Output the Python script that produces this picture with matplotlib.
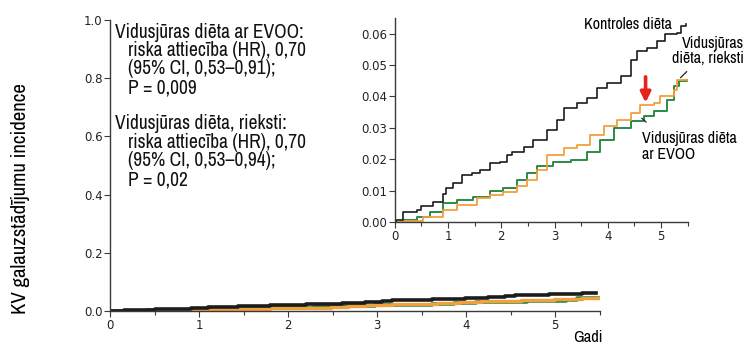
import matplotlib
matplotlib.use("Agg")
import matplotlib.pyplot as plt
from matplotlib.ticker import MultipleLocator, FormatStrFormatter

plt.rcParams['font.family'] = ['Archivo Narrow', 'DejaVu Sans']

# kumulativa incidence (nolasīta no attēla)
t_kontrole = [0, 0.03, 0.15, 0.41, 0.5, 0.72, 0.91, 0.97, 1.1, 1.26, 1.44, 1.6, 1.79, 1.98, 2.1, 2.2,
              2.42, 2.6, 2.86, 3.05, 3.17, 3.42, 3.61, 3.8, 3.99, 4.24, 4.43, 4.55, 4.74, 4.93, 5.08,
              5.3, 5.37, 5.46]
y_kontrole = [0, 0.0006, 0.0033, 0.0038, 0.0051, 0.0065, 0.0089, 0.0108, 0.0124, 0.015, 0.0156,
              0.0166, 0.0188, 0.0192, 0.0214, 0.0224, 0.024, 0.0262, 0.0294, 0.0326, 0.0363, 0.0379,
              0.0395, 0.0427, 0.0443, 0.0464, 0.0517, 0.0544, 0.0554, 0.0575, 0.0597, 0.0602, 0.0623,
              0.063]

t_rieksti = [0, 0.15, 0.53, 0.91, 1.16, 1.54, 1.79, 2.04, 2.29, 2.48, 2.67, 2.86, 3.17, 3.42, 3.67,
             3.92, 4.17, 4.43, 4.61, 4.86, 4.99, 5.24, 5.3, 5.48]
y_rieksti = [0, 0.0003, 0.0017, 0.0038, 0.0054, 0.0076, 0.0086, 0.0094, 0.0113, 0.0134, 0.0166,
             0.0214, 0.0235, 0.0246, 0.0278, 0.0304, 0.0326, 0.0347, 0.0373, 0.0379, 0.04, 0.0421,
             0.0453, 0.0453]

t_evoo = [0, 0.15, 0.41, 0.66, 0.91, 1.16, 1.47, 1.79, 2.04, 2.29, 2.48, 2.67, 2.98, 3.3, 3.61,
          3.86, 4.11, 4.43, 4.68, 4.86, 5.12, 5.24, 5.34, 5.48]
y_evoo = [0, 0.0006, 0.0017, 0.0033, 0.006, 0.007, 0.0081, 0.0097, 0.0108, 0.0134, 0.0156, 0.0177,
          0.0192, 0.0198, 0.0224, 0.0262, 0.0299, 0.032, 0.0336, 0.0352, 0.0389, 0.0432, 0.0448,
          0.0453]

bloks_evoo = ["Vidusjūras diēta ar EVOO:", "riska attiecība (HR), 0,70", "(95% CI, 0,53–0,91);", "P = 0,009"]
bloks_rieksti = ["Vidusjūras diēta, rieksti:", "riska attiecība (HR), 0,70", "(95% CI, 0,53–0,94);", "P = 0,02"]

c_black = '#1c1c1c'
c_orange = '#f2a03c'
c_green = '#2b8a48'
c_axis = '#3a3a3a'

fig = plt.figure(figsize=(7.45, 3.49), dpi=100)

def style_axes(ax):
    for s in ['top', 'right']:
        ax.spines[s].set_visible(False)
    for s in ['left', 'bottom']:
        ax.spines[s].set_color(c_axis)
        ax.spines[s].set_linewidth(1.0)
    ax.tick_params(which='both', direction='out', color=c_axis, width=0.8, labelcolor='#222222')
    ax.tick_params(which='major', length=4)
    ax.tick_params(which='minor', length=3)
    ax.xaxis.set_major_locator(MultipleLocator(1))
    ax.xaxis.set_minor_locator(MultipleLocator(0.5))
    ax.set_xlim(0, 5.5)
    ax.patch.set_alpha(0)
    for lab in ax.get_xticklabels() + ax.get_yticklabels():
        lab.set_family('DejaVu Sans')

# galvenais grafiks
ax = fig.add_axes([0.148, 0.109, 0.657, 0.834])
ax.plot(t_evoo, y_evoo, drawstyle='steps-post', color=c_green, lw=2.6)
ax.plot(t_rieksti, y_rieksti, drawstyle='steps-post', color=c_orange, lw=2.4)
ax.plot(t_kontrole, y_kontrole, drawstyle='steps-post', color=c_black, lw=2.6)
ax.set_ylim(0, 1.0)
ax.yaxis.set_major_locator(MultipleLocator(0.2))
ax.yaxis.set_major_formatter(FormatStrFormatter('%.1f'))
style_axes(ax)
ax.tick_params(axis='both', labelsize=8.5, pad=1.5)

fig.text(0.809, 0.034, "Gadi", ha='right', va='center', fontsize=12)
fig.text(0.028, 0.43, "KV galauzstādījumu incidence", rotation=90, ha='center', va='center', fontsize=15)

# teksta bloki
dy = 18.5 / 349
for bloks, y0 in [(bloks_evoo, 1 - 32 / 349), (bloks_rieksti, 1 - 124 / 349)]:
    for i, line in enumerate(bloks):
        x = 115 / 745 if i == 0 else 128 / 745
        fig.text(x, y0 - i * dy, line, ha='left', va='center', fontsize=14, color='#111111')

# ieliktnis
ax_in = fig.add_axes([0.530, 0.364, 0.393, 0.585])
ax_in.plot(t_evoo, y_evoo, drawstyle='steps-post', color=c_green, lw=1.4)
ax_in.plot(t_rieksti, y_rieksti, drawstyle='steps-post', color=c_orange, lw=1.3)
ax_in.plot(t_kontrole, y_kontrole, drawstyle='steps-post', color=c_black, lw=1.2)
ax_in.set_ylim(0, 0.065)
ax_in.yaxis.set_major_locator(MultipleLocator(0.01))
ax_in.yaxis.set_major_formatter(FormatStrFormatter('%.2f'))
style_axes(ax_in)
ax_in.tick_params(axis='both', labelsize=8.5, pad=1.5)

fig.text(0.843, 0.931, "Kontroles diēta", ha='center', va='center', fontsize=11.5)
fig.text(0.999, 0.854, "Vidusjūras\ndiēta, rieksti", ha='right', va='center', fontsize=11.5,
         linespacing=1.05)
fig.text(0.862, 0.58, "Vidusjūras diēta\nar EVOO", ha='left', va='center', fontsize=11.5,
         linespacing=1.15)

ax_in.annotate('', xy=(5.33, 0.0453), xytext=(5.52, 0.0485), annotation_clip=False,
               arrowprops=dict(arrowstyle='-', color='#222222', lw=0.9))
ax_in.annotate('', xy=(4.6, 0.0336), xytext=(4.76, 0.0312), annotation_clip=False,
               arrowprops=dict(arrowstyle='-', color='#222222', lw=0.9))
ax_in.annotate('', xy=(4.71, 0.038), xytext=(4.71, 0.0462), annotation_clip=False,
               arrowprops=dict(arrowstyle='-|>', color='#e8221b', lw=2.6, mutation_scale=15,
                               shrinkA=0, shrinkB=0))

fig.savefig("out.png", dpi=100, facecolor='white')
